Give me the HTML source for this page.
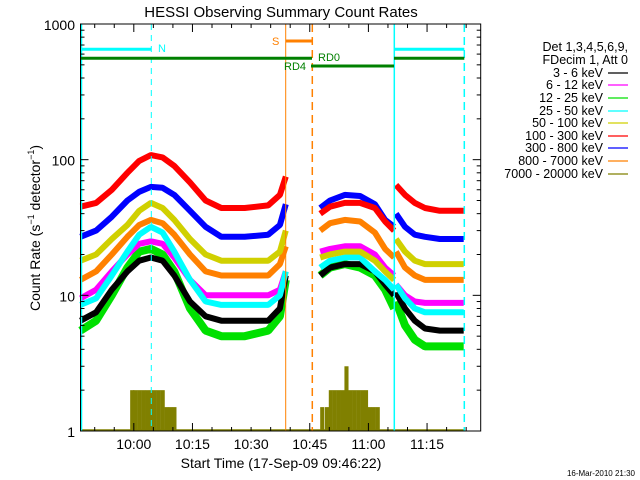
<!DOCTYPE html>
<html><head><meta charset="utf-8"><style>
html,body{margin:0;padding:0;background:#fff;}
svg{display:block;font-family:"Liberation Sans",sans-serif;}
</style></head><body>
<svg id="c" width="640" height="480" viewBox="0 0 640 480">
<rect x="0" y="0" width="640" height="480" fill="#fff"/>
<text x="281" y="17" font-size="15" text-anchor="middle">HESSI Observing Summary Count Rates</text>
<g id="plot"></g>
<g id="axes"></g>
<text x="281" y="468" font-size="14" text-anchor="middle">Start Time (17-Sep-09 09:46:22)</text>
<text transform="translate(40,228) rotate(-90)" font-size="14" text-anchor="middle">Count Rate (s<tspan font-size="9" dy="-6">−1</tspan><tspan dy="6"> detector</tspan><tspan font-size="9" dy="-6">−1</tspan><tspan dy="6">)</tspan></text>
<g id="legend"></g>
<text x="635" y="476" font-size="8" text-anchor="end">16-Mar-2010 21:30</text>
</svg>
<script>
// time in minutes since 09:46:22
const seg1T = [0,4,8,12,15,18,21,24,28,32,36,42,48,51,52.5];
const seg2T = [61.3,63.8,67.6,71.5,75.3,77.9,80.2];
const seg3T = [80.7,83,85.5,88.1,91.9,98];
const seriesNames = ["3 - 6 keV","6 - 12 keV","12 - 25 keV","25 - 50 keV","50 - 100 keV","100 - 300 keV","300 - 800 keV","800 - 7000 keV","7000 - 20000 keV"];
const seriesColors = ["#000000","#ff00ff","#00e000","#00ffff","#d0d000","#ff0000","#0000ff","#ff8000","#808000"];
const s1_3_6 = [6.5,7.5,11,15,18,19,18,14,9,7,6.5,6.5,6.5,8,14];
const s1_6_12 = [9.5,11,15,20,24,25,24,19,13,10,10,10,10,11,15];
const s1_12_25 = [5.5,6.5,10,16,21,22,20,15,8,5.5,5,5,5.5,7,13];
const s1_25_50 = [8.5,9.5,14,21,28,32,29,21,13,9,8.5,8.5,8.5,10,15];
const s1_50_100 = [18,20,26,33,42,48,44,36,26,20,18,18,18,21,30];
const s1_100_300 = [45,48,60,80,98,108,104,90,68,50,44,44,46,55,75];
const s1_300_800 = [27,30,38,50,58,63,62,55,42,32,27,27,28,33,47];
const s1_800_7000 = [13,15,20,27,33,36,34,28,20,15,14,14,14,17,23];
const s2_3_6 = [14,16,17,17,15,12,10];
const s2_6_12 = [21,22,23,23,20,16,14];
const s2_12_25 = [14,16,17,16,14,11,8];
const s2_25_50 = [16,18,19,19,15,13,11];
const s2_50_100 = [19,20,21,21,18,15,13];
const s2_100_300 = [40,45,48,48,44,35,30];
const s2_300_800 = [44,50,55,54,47,36,32];
const s2_800_7000 = [30,34,36,35,29,22,19];
const s3_3_6 = [10.5,8,6.5,5.7,5.5,5.5];
const s3_6_12 = [12,10,9,8.8,8.8,8.8];
const s3_12_25 = [9,6,4.7,4.2,4.2,4.2];
const s3_25_50 = [12,9.5,8,7.5,7.5,7.5];
const s3_50_100 = [26,21,18,17,17,17];
const s3_100_300 = [65,55,48,44,42,42];
const s3_300_800 = [40,32,28,27,26,26];
const s3_800_7000 = [21,16,14,13,13,13];
// 7000-20000 keV bins (start minute, value)
const olT = [12.7,13.5,14.5,15.5,16.5,17.5,18.5,19.5,20.5,21.5,22.5,23.5,61.3,62.5,63.5,64.5,65.5,66.5,67.5,68.5,69.5,70.5,71.5,72.5,73.5,74.5,75.5];
const olV = [2,2,2,2,2,2,2,2,2,1.5,1.5,1.5,1.5,1.5,2,2,2,2,3,2,2,2,2,2,1.5,1.5,1.5];
const xTickLabels = ["10:00","10:15","10:30","10:45","11:00","11:15"];
const xTickMin = [13.633,28.633,43.633,58.633,73.633,88.633];
const yTickVals = [1,10,100,1000];
const yTickLabels = ["1","10","100","1000"];

const X0=80.5,X1=480.7,Y0=24,Y1=431,PPM=3.91;
const xs=t=>X0+t*PPM;
const ys=v=>Y1-(Y1-Y0)/3*Math.log10(v);
const NS="http://www.w3.org/2000/svg";
function mk(tag,parent){const e=document.createElementNS(NS,tag);parent.appendChild(e);return e;}
const plot=document.getElementById('plot'),axes=document.getElementById('axes'),legend=document.getElementById('legend');

// olive baseline
const ob=mk('line',plot);


ob.setAttribute('x1',X0);ob.setAttribute('x2',464);ob.setAttribute('y1',Y1-1);ob.setAttribute('y2',Y1-1);
ob.setAttribute('stroke','#808000');ob.setAttribute('stroke-width',1.5);
// olive bars
for(let i=0;i<olT.length;i++){
  const r=mk('rect',plot);
  
  
  r.setAttribute('x',xs(olT[i]));r.setAttribute('width',PPM*1.05);
  r.setAttribute('y',ys(olV[i]));r.setAttribute('height',Y1-ys(olV[i]));
  r.setAttribute('fill','#808000');
}
const segData=[
 [s1_3_6,s1_6_12,s1_12_25,s1_25_50,s1_50_100,s1_100_300,s1_300_800,s1_800_7000],
 [s2_3_6,s2_6_12,s2_12_25,s2_25_50,s2_50_100,s2_100_300,s2_300_800,s2_800_7000],
 [s3_3_6,s3_6_12,s3_12_25,s3_25_50,s3_50_100,s3_100_300,s3_300_800,s3_800_7000]];
const segT=[seg1T,seg2T,seg3T];
const order=[2,0,1,3,7,4,6,5];
for(let s=0;s<3;s++){
  for(const k of order){
    const vals=segData[s][k];
    const p=mk('polyline',plot);
    
    
    p.setAttribute('points',vals.map((v,i)=>xs(segT[s][i]).toFixed(1)+','+ys(v).toFixed(1)).join(' '));
    p.setAttribute('fill','none');p.setAttribute('stroke',seriesColors[k]);
    p.setAttribute('stroke-width',k==2?8:6);p.setAttribute('stroke-linejoin','bevel');
  }
}
// markers
function line(x1,y1,x2,y2,col,w,dash,name){const l=mk('line',plot);
  
  
  l.setAttribute('x1',x1);l.setAttribute('y1',y1);l.setAttribute('x2',x2);l.setAttribute('y2',y2);
  l.setAttribute('stroke',col);l.setAttribute('stroke-width',w);if(dash)l.setAttribute('stroke-dasharray',dash);}
line(81.5,Y0,81.5,Y1,'#00ffff',1.5,null,'saa-start-line');
line(151.3,Y0,151.3,Y1,'#00ffff',1,'6,5','night-end-line');
line(285.7,Y0,285.7,Y1,'#ff8000',1,null,'saa-orange-start');
line(312.3,Y0,312.3,Y1,'#ff8000',1.5,'8,5','saa-orange-end');
line(394.3,Y0,394.3,Y1,'#00ffff',1.5,null,'night-start-line');
line(464.3,Y0,464.3,Y1,'#00ffff',1.5,'8,5','night-end-line-2');
line(81,49.3,151.3,49.3,'#00ffff',3,null,'night-bar-1');
line(394.3,49.3,464.3,49.3,'#00ffff',3,null,'night-bar-2');
line(81,58.3,312,58.3,'#008000',3,null,'rd4-bar');
line(394,58.3,464.3,58.3,'#008000',3,null,'rd0-bar-2');
line(311,66,394,66,'#008000',3,null,'rd0-bar');
line(286,41,312,41,'#ff8000',3,null,'saa-bar');
function txt(x,y,s,col,sz,anchor,name,parent){const t=mk('text',parent||plot);
  
  
  t.setAttribute('x',x);t.setAttribute('y',y);t.setAttribute('fill',col);t.setAttribute('font-size',sz);
  if(anchor)t.setAttribute('text-anchor',anchor);t.textContent=s;return t;}
txt(158,52,'N','#00ffff',11,null,'night-label');
txt(272,45,'S','#ff8000',11,null,'saa-label');
txt(284,70,'RD4','#008000',11,null,'rd4-label');
txt(318,61,'RD0','#008000',11,null,'rd0-label');

// frame
const fr=mk('rect',axes);


fr.setAttribute('x',X0);fr.setAttribute('y',Y0);fr.setAttribute('width',X1-X0);fr.setAttribute('height',Y1-Y0);
fr.setAttribute('fill','none');fr.setAttribute('stroke','#000');fr.setAttribute('stroke-width',1);
function tk(x1,y1,x2,y2){const l=mk('line',axes);
  
  
  l.setAttribute('x1',x1);l.setAttribute('y1',y1);l.setAttribute('x2',x2);l.setAttribute('y2',y2);
  l.setAttribute('stroke','#000');l.setAttribute('stroke-width',1);}
// x ticks every 5 min
for(let m=xTickMin[0]-10;m<=100;m+=5){
  const x=xs(m);if(x<X0+1||x>X1)continue;
  const major=Math.abs(((m-xTickMin[0])%15+15)%15)<0.01;
  const L=major?8:4;tk(x,Y1,x,Y1-L);tk(x,Y0,x,Y0+L);
}
xTickMin.forEach((m,i)=>txt(xs(m),449,xTickLabels[i],'#000',14,'middle','x-tick-label',axes));
// y ticks
for(let d=0;d<3;d++)for(let k=1;k<10;k++){
  const v=Math.pow(10,d)*k;const y=ys(v);const L=k==1?8:4;
  tk(X0,y,X0+L,y);tk(X1,y,X1-L,y);
}
tk(X0,Y0,X0+8,Y0);tk(X1,Y0,X1-8,Y0);
yTickVals.forEach((v,i)=>txt(75,ys(v)+6,yTickLabels[i],'#000',14,'end','y-tick-label',axes));

// legend
txt(628,51,'Det 1,3,4,5,6,9,','#000',12.5,'end','legend-header',legend);
txt(628,64,'FDecim 1, Att 0','#000',12.5,'end','legend-subheader',legend);
const legY=[77,89,102,115,127,140,152,165,178];
seriesNames.forEach((n,i)=>{
  txt(603,legY[i],n,'#000',12.5,'end','legend-entry',legend);
  const l=mk('line',legend);
  
  
  l.setAttribute('x1',608);l.setAttribute('x2',628);l.setAttribute('y1',legY[i]-4);l.setAttribute('y2',legY[i]-4);
  l.setAttribute('stroke',seriesColors[i]);l.setAttribute('stroke-width',1.3);
});
</script>
</body></html>
